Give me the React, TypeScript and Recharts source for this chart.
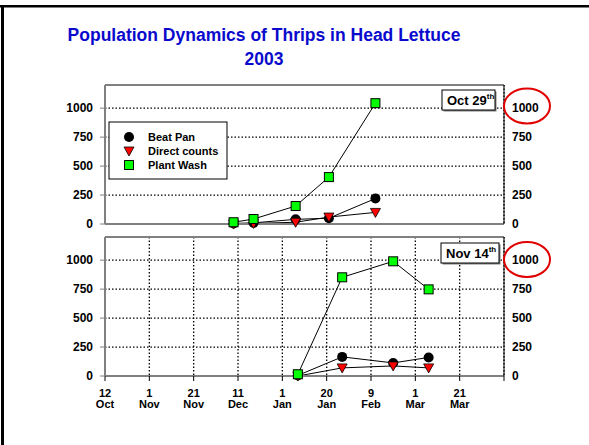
import { CartesianGrid, Line, LineChart, ReferenceLine, XAxis, YAxis } from "recharts";

const SERIES = ["Beat Pan", "Direct counts", "Plant Wash"];

// days counted from 12 Oct
const octDays = [58, 67, 86, 101, 122];
const octBeatPan = [5, 10, 40, 50, 220];
const octDirect = [0, 5, 15, 60, 100];
const octWash = [15, 43, 155, 405, 1043];

const novDays = [87, 107, 130, 146];
const novBeatPan = [5, 165, 113, 160];
const novDirect = [0, 70, 87, 70];
const novWash = [15, 852, 990, 748];

const xTicks = [0, 20, 40, 60, 80, 100, 120, 140, 160, 180];
const xDayLabels = ["12", "1", "21", "11", "1", "20", "9", "1", "21", ""];
const xMonthLabels = ["Oct", "Nov", "Nov", "Dec", "Jan", "Jan", "Feb", "Mar", "Mar", ""];
const yTicks = [0, 250, 500, 750, 1000];

const FONT = "'Liberation Sans', Arial, sans-serif";
const GRAY = "#808080";

type Row = { day: number; beat: number; direct: number; wash: number };

function rows(days: number[], beat: number[], direct: number[], wash: number[]): Row[] {
  return days.map((d, i) => ({ day: d, beat: beat[i], direct: direct[i], wash: wash[i] }));
}

function CircleMark({ cx, cy }: { cx: number; cy: number }) {
  return <circle cx={cx} cy={cy} r={5} fill="#000" />;
}

function TriMark({ cx, cy }: { cx: number; cy: number }) {
  return (
    <polygon
      points={`${cx - 5},${cy - 4} ${cx + 5},${cy - 4} ${cx},${cy + 5}`}
      fill="#ff0000"
      stroke="#000"
      strokeWidth={0.8}
    />
  );
}

function SquareMark({ cx, cy }: { cx: number; cy: number }) {
  return <rect x={cx - 4.5} y={cy - 4.5} width={9} height={9} fill="#00ff00" stroke="#000" strokeWidth={1} />;
}

const MARKS = [CircleMark, TriMark, SquareMark];
const KEYS: (keyof Row)[] = ["beat", "direct", "wash"];

function DateTick({ x, y, payload }: any) {
  const i = xTicks.indexOf(payload.value);
  if (i < 0 || !xDayLabels[i]) return null;
  return (
    <text x={x} y={y} textAnchor="middle" fontFamily={FONT} fontWeight={700} fontSize={11} fill="#000">
      <tspan x={x} y={y + 14}>{xDayLabels[i]}</tspan>
      <tspan x={x} y={y + 25}>{xMonthLabels[i]}</tspan>
    </text>
  );
}

const yTick = { fill: "#000", fontSize: 12, fontWeight: 700, fontFamily: FONT };

function Panel({ data, top, showDates }: { data: Row[]; top: number; showDates: boolean }) {
  const xH = showDates ? 45 : 8;
  return (
    <div style={{ position: "absolute", left: 0, top: 0 }}>
      <LineChart width={589} height={top + 139 + xH} data={data} margin={{ top, right: 0, bottom: 0, left: 0 }}>
        <CartesianGrid yAxisId="left" stroke="#000" strokeDasharray="1.5 2" strokeWidth={1.3} />
        <XAxis
          dataKey="day"
          type="number"
          domain={[0, 180]}
          ticks={xTicks}
          interval={0}
          height={xH}
          axisLine={{ stroke: GRAY, strokeWidth: 2 }}
          tickLine={{ stroke: "#000" }}
          tickSize={5}
          tick={showDates ? <DateTick /> : false}
        />
        <YAxis
          yAxisId="left"
          domain={[0, 1200]}
          ticks={yTicks}
          interval={0}
          width={105}
          axisLine={{ stroke: GRAY, strokeWidth: 2 }}
          tickLine={{ stroke: GRAY }}
          tickSize={5}
          tickMargin={7}
          tick={yTick}
        />
        <YAxis
          yAxisId="right"
          orientation="right"
          domain={[0, 1200]}
          ticks={yTicks}
          interval={0}
          width={85}
          axisLine={{ stroke: "#000", strokeWidth: 1 }}
          tickLine={false}
          tickSize={4}
          tickMargin={4}
          tick={yTick}
        />
        <ReferenceLine yAxisId="left" y={1200} stroke={GRAY} strokeWidth={2} />
        {/* carries the right-hand scale, draws nothing */}
        <Line
          yAxisId="right"
          dataKey="wash"
          stroke="none"
          dot={false}
          activeDot={false}
          legendType="none"
          isAnimationActive={false}
        />
        {KEYS.map((k, s) => {
          const Mark = MARKS[s];
          return (
            <Line
              key={k}
              yAxisId="left"
              dataKey={k}
              name={SERIES[s]}
              type="linear"
              stroke="#000"
              strokeWidth={1}
              isAnimationActive={false}
              dot={(p: any) => <Mark key={`${k}-${p.index}`} cx={p.cx} cy={p.cy} />}
              activeDot={false}
            />
          );
        })}
      </LineChart>
    </div>
  );
}

function DateBox({ x, y, w, label }: { x: number; y: number; w: number; label: string }) {
  return (
    <g>
      <rect x={x + 1.5} y={y + 1.5} width={w} height={20} fill={GRAY} />
      <rect x={x} y={y} width={w} height={20} fill="#fff" stroke="#000" strokeWidth={1} />
      <text x={x + 5} y={y + 15} fontFamily={FONT} fontWeight={700} fontSize={13} fill="#000">
        {label}
        <tspan fontSize={8} dy={-6}>th</tspan>
      </text>
    </g>
  );
}

export default function App() {
  const oct = rows(octDays, octBeatPan, octDirect, octWash);
  const nov = rows(novDays, novBeatPan, novDirect, novWash);
  return (
    <div style={{ position: "absolute", left: 0, top: 0, width: 589, height: 445, background: "#fff", overflow: "hidden" }}>
      <Panel data={oct} top={85} showDates={false} />
      <Panel data={nov} top={237} showDates />
      <svg width={589} height={445} style={{ position: "absolute", left: 0, top: 0, pointerEvents: "none" }}>
        <rect x={0} y={5} width={589} height={2.5} fill="#000" />
        <rect x={1} y={5} width={3} height={440} fill="#000" />
        <text x={264} y={41} textAnchor="middle" fontFamily={FONT} fontWeight={700} fontSize={17.5} fill="#0a0acc">
          Population Dynamics of Thrips in Head Lettuce
        </text>
        <text x={264} y={65} textAnchor="middle" fontFamily={FONT} fontWeight={700} fontSize={17.5} fill="#0a0acc">
          2003
        </text>

        <g>
          <rect x={109} y={122} width={118} height={57} fill="#fff" stroke="#000" strokeWidth={1} />
          {SERIES.map((name, i) => {
            const Mark = MARKS[i];
            const cy = 137 + i * 14;
            return (
              <g key={name}>
                <Mark cx={129} cy={cy} />
                <text x={148} y={cy + 4} fontFamily={FONT} fontWeight={700} fontSize={11} fill="#000">
                  {name}
                </text>
              </g>
            );
          })}
        </g>

        <DateBox x={442} y={90} w={53} label="Oct 29" />
        <DateBox x={441} y={243} w={58} label="Nov 14" />

        <ellipse cx={527} cy={106} rx={23} ry={17.5} fill="none" stroke="#e00000" strokeWidth={2} />
        <ellipse cx={527} cy={259.5} rx={23} ry={17.5} fill="none" stroke="#e00000" strokeWidth={2} />
      </svg>
    </div>
  );
}
